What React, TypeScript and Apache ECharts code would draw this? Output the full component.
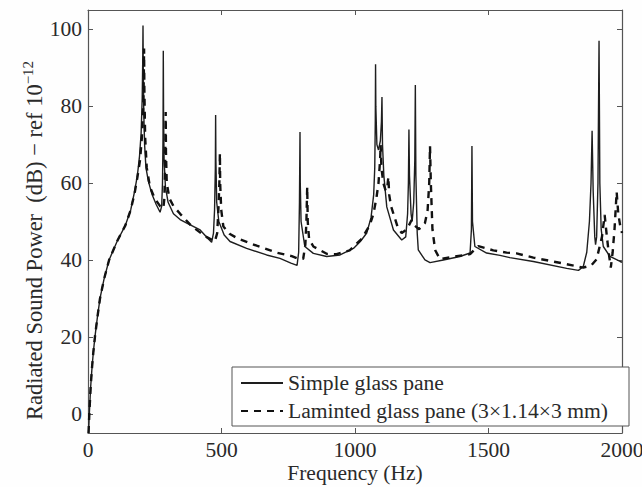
import React, { useEffect, useRef } from "react";
import * as echarts from "echarts";

const xTickLabels = ["0", "500", "1000", "1500", "2000"];
const yTickLabels = ["0", "20", "40", "60", "80", "100"];

const simpleHz = [
  2, 5, 10, 15, 20, 26, 35, 45, 60, 79, 110, 140, 160, 175, 185, 193, 199, 203, 205, 206,
  207, 209, 212, 217, 226, 240, 255, 270, 276, 279, 281, 282, 283, 285, 290, 300, 320, 345,
  370, 420, 450, 463, 470, 474, 477, 478, 479, 482, 490, 510, 532, 594, 669, 719, 760, 783,
  789, 792, 794, 795, 798, 812, 844, 894, 944, 994, 1020, 1044, 1060, 1070, 1074, 1076, 1077,
  1078, 1082, 1088, 1095, 1099, 1101, 1103, 1108, 1119, 1144, 1175, 1190, 1197, 1200, 1202,
  1204, 1210, 1214, 1220, 1224, 1226, 1228, 1233, 1237, 1262, 1281, 1331, 1393, 1431, 1436,
  1438, 1440, 1449, 1493, 1543, 1580, 1668, 1793, 1837, 1855, 1868, 1878, 1884, 1888, 1892,
  1898, 1901, 1905, 1910, 1914, 1917, 1922, 1930, 1955, 1993, 2000,
];
const simpleDb = [
  -5, 0, 7, 12, 16, 20, 25, 30, 35, 40, 45, 49, 53, 58, 62, 67, 73, 82, 92, 101,
  90, 78, 70, 64, 60.5, 57, 54.5, 52.4, 54, 60, 72, 94.4, 78, 66, 59, 55, 52, 50.5,
  49.6, 47.8, 45.5, 44.6, 47, 53, 64, 77.7, 66, 55, 50, 46.5, 44.8, 43, 41.3, 40.4, 39.2, 38.6,
  42, 55, 73.3, 60, 50, 43.5, 41.7, 40.9, 41.3, 43, 44.8, 47, 51, 57, 64, 76, 90.9,
  80, 70, 68.6, 71, 76, 82.4, 70, 62, 53.8, 47.8, 45.2, 46, 52, 60, 73.9,
  62, 52, 50, 55, 66, 85.5, 62, 47, 42.6, 40, 39.3, 40, 40.9, 41.8, 48,
  69.6, 50, 43.5, 41.8, 41.2, 40.6, 39.6, 37.8, 37.3, 38.3, 42, 50, 60, 73.6, 58,
  46, 44, 46, 60, 97, 60, 48, 43.5, 40.9, 39.6, 39.4,
];

const laminatedHz = [
  2, 5, 10, 15, 20, 26, 35, 45, 60, 79, 110, 140, 160, 175, 185, 195, 202, 207, 209, 210,
  211, 214, 220, 232, 250, 270, 282, 286, 289, 291, 292, 295, 305, 320, 345, 388, 438, 475,
  484, 489, 492, 494, 495, 499, 507, 530, 563, 632, 707, 763, 790, 806, 814, 818, 821, 823,
  828, 844, 894, 931, 980, 1025, 1055, 1069, 1080, 1088, 1094, 1096, 1099, 1106, 1115, 1121,
  1125, 1128, 1135, 1144, 1160, 1175, 1195, 1212, 1222, 1240, 1262, 1272, 1278, 1281, 1284,
  1290, 1300, 1318, 1381, 1431, 1445, 1462, 1518, 1568, 1605, 1668, 1793, 1855, 1885, 1905,
  1925, 1935, 1942, 1950, 1958, 1965, 1972, 1980, 1986, 1993, 2000,
];
const laminatedDb = [
  -5, 0, 7, 12, 16, 20, 25, 30, 35, 40, 45, 49, 53, 57.5, 61.5, 66, 72, 80, 88, 95,
  85, 72, 64, 59, 56, 54, 53.4, 56, 65, 78.5, 68, 60, 56, 54, 52, 48.8, 46.2, 44.8,
  47, 54, 60, 67.8, 60, 53, 48.7, 46.8, 45.5, 43.7, 41.9, 41, 40.2, 40.3, 44, 50, 59, 50,
  45.5, 43.5, 41.6, 41.5, 42.5, 45.5, 49, 52, 56, 60, 66, 69.9, 64, 60, 58, 59,
  61.6, 57, 54, 52, 48.5, 47, 48, 50.4, 49, 48, 49.6, 53, 60, 69.6, 60,
  48, 42.6, 40.2, 41, 41.5, 42.5, 43.6, 42.5, 41.9, 41.7, 40.6, 38.9, 38, 38.6, 40.2,
  46, 51.7, 47, 42, 38, 42, 48, 57.7, 52, 49, 47,
];

const seriesNames = ["Simple glass pane", "Laminted glass pane (3×1.14×3 mm)"];

const FONT = "Liberation Serif";
const AXIS_COLOR = "#555";
const TEXT_COLOR = "#2a2a2a";

export default function App() {
  const ref = useRef<HTMLDivElement>(null);
  useEffect(() => {
    if (!ref.current) return;
    const chart = echarts.init(ref.current, undefined, { renderer: "svg" });
    const pair = (xs: number[], ys: number[]) => xs.map((x, i) => [x, ys[i]]);
    const xAxisCommon = {
      type: "value" as const,
      min: 0,
      max: 2000,
      interval: 500,
      splitLine: { show: false },
      axisLine: { show: true, onZero: false, lineStyle: { color: AXIS_COLOR, width: 1.2 } },
      axisTick: { show: true, inside: true, length: 5, lineStyle: { color: AXIS_COLOR } },
    };
    const yAxisCommon = {
      type: "value" as const,
      min: -5,
      max: 105,
      splitNumber: 5,
      splitLine: { show: false },
      axisLine: { show: true, onZero: false, lineStyle: { color: AXIS_COLOR, width: 1.2 } },
      axisTick: { show: true, inside: true, length: 5, lineStyle: { color: AXIS_COLOR } },
    };
    chart.setOption({
      animation: false,
      backgroundColor: "#fefefe",
      textStyle: { fontFamily: FONT },
      grid: {
        left: 88,
        right: 20,
        top: 10,
        bottom: 54,
        containLabel: false,
        outerBoundsMode: "none",
      },
      legend: {
        orient: "vertical",
        left: 232,
        top: 367,
        padding: [5, 21, 4, 8],
        itemGap: 6,
        itemWidth: 42,
        itemHeight: 14,
        backgroundColor: "#ffffff",
        borderColor: AXIS_COLOR,
        borderWidth: 1,
        borderRadius: 0,
        itemStyle: { color: "rgba(0,0,0,0)", borderColor: "rgba(0,0,0,0)", borderWidth: 0, opacity: 0 },
        textStyle: { fontFamily: FONT, fontSize: 21.6, color: TEXT_COLOR },
        data: seriesNames,
      },
      xAxis: [
        {
          ...xAxisCommon,
          position: "bottom",
          name: "Frequency (Hz)",
          nameLocation: "middle",
          nameGap: 29,
          nameMoveOverlap: false,
          nameTextStyle: { fontFamily: FONT, fontSize: 21.5, lineHeight: 22, color: TEXT_COLOR },
          axisLabel: {
            margin: 6,
            fontFamily: FONT,
            fontSize: 21.5,
            color: TEXT_COLOR,
            formatter: (v: number) => {
              const s = String(v);
              return xTickLabels.includes(s) ? s : "";
            },
          },
        },
        { ...xAxisCommon, position: "top", axisLabel: { show: false } },
      ],
      yAxis: [
        {
          ...yAxisCommon,
          position: "left",
          name: "{a|Radiated Sound Power  (dB) − ref 10}{b|−12}",
          nameLocation: "middle",
          nameGap: 40,
          nameMoveOverlap: false,
          nameRotate: 90,
          nameTextStyle: {
            fontFamily: FONT,
            fontSize: 22.5,
            color: TEXT_COLOR,
            padding: [0, 38, 0, 0],
            rich: {
              a: { fontFamily: FONT, fontSize: 22.5, color: TEXT_COLOR },
              b: { fontFamily: FONT, fontSize: 15, color: TEXT_COLOR, padding: [0, 0, 13, 0] },
            },
          },
          axisLabel: {
            margin: 6,
            fontFamily: FONT,
            fontSize: 21.5,
            color: TEXT_COLOR,
            formatter: (v: number) => {
              const s = String(v);
              return yTickLabels.includes(s) ? s : "";
            },
          },
        },
        { ...yAxisCommon, position: "right", axisLabel: { show: false } },
      ],
      series: [
        {
          name: seriesNames[0],
          type: "line",
          xAxisIndex: 0,
          yAxisIndex: 0,
          data: pair(simpleHz, simpleDb),
          symbol: "none",
          clip: true,
          lineStyle: { color: "#1e1e1e", width: 1.4 },
          itemStyle: { color: "#1e1e1e" },
        },
        {
          name: seriesNames[1],
          type: "line",
          xAxisIndex: 0,
          yAxisIndex: 0,
          data: pair(laminatedHz, laminatedDb),
          symbol: "none",
          clip: true,
          lineStyle: { color: "#111", width: 2.4, type: [7, 6] },
          itemStyle: { color: "#111" },
        },
      ],
    });
    return () => chart.dispose();
  }, []);
  return (
    <div
      ref={ref}
      style={{ position: "fixed", left: 0, top: 0, width: 642, height: 487 }}
    />
  );
}
